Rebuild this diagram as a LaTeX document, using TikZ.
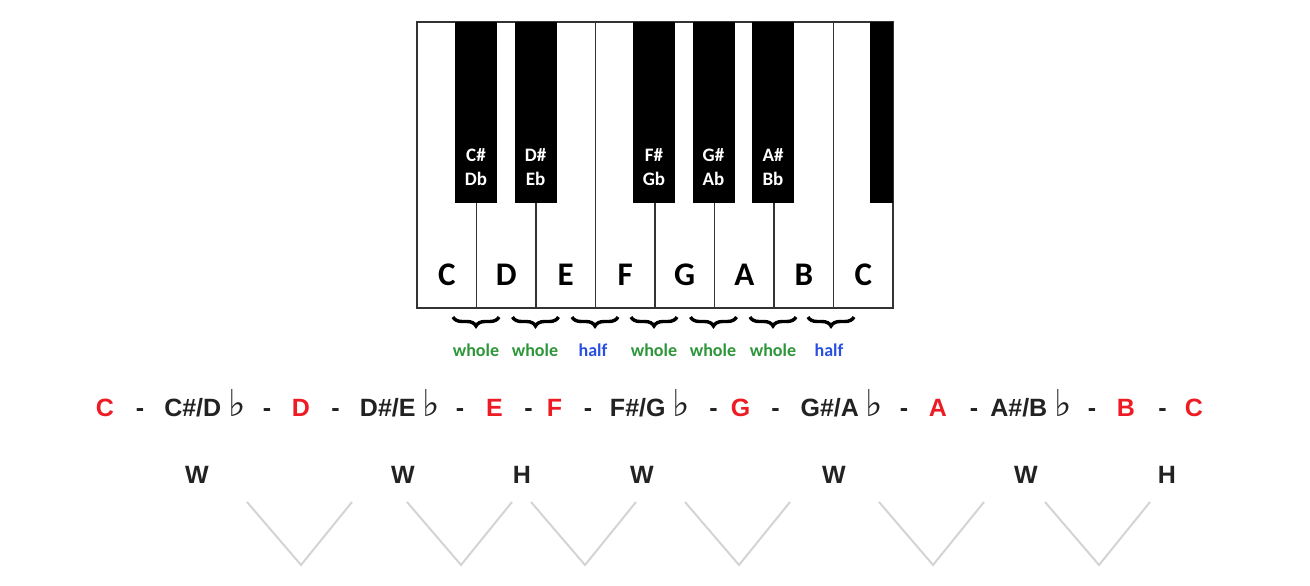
\documentclass[tikz,border=0pt]{standalone}
\usepackage{fontspec}
\usetikzlibrary{decorations.pathreplacing}
\newfontfamily\keyfont{Carlito}
\newfontfamily\arfont{Liberation Sans}
\newfontfamily\symfont{DejaVu Sans}
\definecolor{notered}{RGB}{237,28,36}
\definecolor{notedark}{RGB}{34,34,34}
\definecolor{wholegreen}{RGB}{46,150,58}
\definecolor{halfblue}{RGB}{40,80,225}
\definecolor{vgray}{RGB}{212,212,212}
\tikzset{
  whitekey/.style={draw=black!80, line width=1.3pt, fill=white, minimum width=59.5pt, minimum height=286pt, inner sep=0pt},
  blackkey/.style={fill=black, draw=none, minimum width=42pt, minimum height=181pt, inner sep=0pt},
  wlabel/.style={anchor=base, inner sep=0pt, font=\keyfont\bfseries\fontsize{33}{36}\selectfont, text=black},
  blabel/.style={anchor=base, inner sep=0pt, font=\keyfont\bfseries\fontsize{19}{22}\selectfont, text=white},
  bracestyle/.style={decorate, decoration={brace, amplitude=9pt}, line width=3.4pt, black},
  steplabel/.style={anchor=base, inner sep=0pt, font=\keyfont\bfseries\fontsize{18}{21}\selectfont},
  noteitem/.style={anchor=base, inner sep=0pt, font=\arfont\bfseries\fontsize{25}{28}\selectfont, text=notedark},
  rednote/.style={noteitem, text=notered},
  wh/.style={anchor=base, inner sep=0pt, font=\arfont\bfseries\fontsize{25}{28}\selectfont, text=notedark},
  vshape/.style={draw=vgray, line width=2pt}
}
\newcommand{\flatsym}{\hspace{7pt}{\symfont\mdseries\fontsize{37}{37}\selectfont ♭}}
\begin{document}
\begin{tikzpicture}[x=1pt,y=-1pt]
\useasboundingbox[fill=white] (0,0) rectangle (1310,586);
% white keys
\foreach \i/\n in {0/wC,1/wD,2/wE,3/wF,4/wG,5/wA,6/wB,7/wCC}
  \node[whitekey] (\n) at (446.75+59.5*\i,165) {};
% black keys
\node[blackkey] (bCs) at (476,112.5) {};
\node[blackkey] (bDs) at (535.5,112.5) {};
\node[blackkey] (bFs) at (654,112.5) {};
\node[blackkey] (bGs) at (713.5,112.5) {};
\node[blackkey] (bAs) at (773,112.5) {};
\node[blackkey, minimum width=23pt] (bCs2) at (881.5,112.5) {};
% black key labels
\node[blabel] (lCs) at (476,161.5) {C\#};
\node[blabel] (lDb) at (476,185.5) {Db};
\node[blabel] (lDs) at (535.5,161.5) {D\#};
\node[blabel] (lEb) at (535.5,185.5) {Eb};
\node[blabel] (lFs) at (654,161.5) {F\#};
\node[blabel] (lGb) at (654,185.5) {Gb};
\node[blabel] (lGs) at (713.5,161.5) {G\#};
\node[blabel] (lAb) at (713.5,185.5) {Ab};
\node[blabel] (lAs) at (773,161.5) {A\#};
\node[blabel] (lBb) at (773,185.5) {Bb};
% white key labels
\foreach \i/\t/\n in {0/C/kC,1/D/kD,2/E/kE,3/F/kF,4/G/kG,5/A/kA,6/B/kB,7/C/kCC}
  \node[wlabel] (\n) at (446.75+59.5*\i,285.5) {\t};
% braces
\foreach \x in {476,535.5,595,654,713.5,773,831}
  \draw[bracestyle] (\x+23,317) -- (\x-23,317);
% step labels
\node[steplabel, text=wholegreen] (s1) at (476,356.5) {whole};
\node[steplabel, text=wholegreen] (s2) at (535,356.5) {whole};
\node[steplabel, text=halfblue] (s3) at (593,356.5) {half};
\node[steplabel, text=wholegreen] (s4) at (654,356.5) {whole};
\node[steplabel, text=wholegreen] (s5) at (713,356.5) {whole};
\node[steplabel, text=wholegreen] (s6) at (773,356.5) {whole};
\node[steplabel, text=halfblue] (s7) at (829,356.5) {half};
% note row
\node[rednote] (n1) at (105,416) {C};
\node[noteitem] (d1) at (140,416) {-};
\node[noteitem] (n2) at (205,416) {C\#/D\flatsym};
\node[noteitem] (d2) at (267,416) {-};
\node[rednote] (n3) at (301,416) {D};
\node[noteitem] (d3) at (335.5,416) {-};
\node[noteitem] (n4) at (400,416) {D\#/E\flatsym};
\node[noteitem] (d4) at (460,416) {-};
\node[rednote] (n5) at (494.5,416) {E};
\node[noteitem] (d5) at (528.5,416) {-};
\node[rednote] (n6) at (554.5,416) {F};
\node[noteitem] (d6) at (588,416) {-};
\node[noteitem] (n7) at (650,416) {F\#/G\flatsym};
\node[noteitem] (d7) at (713.5,416) {-};
\node[rednote] (n8) at (740.5,416) {G};
\node[noteitem] (d8) at (775.5,416) {-};
\node[noteitem] (n9) at (842,416) {G\#/A\flatsym};
\node[noteitem] (d9) at (904,416) {-};
\node[rednote] (n10) at (938,416) {A};
\node[noteitem] (d10) at (974,416) {-};
\node[noteitem] (n11) at (1031,416) {A\#/B\flatsym};
\node[noteitem] (d11) at (1092,416) {-};
\node[rednote] (n12) at (1126,416) {B};
\node[noteitem] (d12) at (1162.5,416) {-};
\node[rednote] (n13) at (1194,416) {C};
% W / H row
\node[wh] (w1) at (197,483) {W};
\node[wh] (w2) at (403,483) {W};
\node[wh] (h1) at (522,483) {H};
\node[wh] (w3) at (642,483) {W};
\node[wh] (w4) at (834,483) {W};
\node[wh] (w5) at (1026,483) {W};
\node[wh] (h2) at (1167,483) {H};
% V shapes
\foreach \x in {301,461,585,739,933,1099}
  \draw[vshape] (\x-54,502) -- (\x,565) -- (\x+51,502);
\end{tikzpicture}
\end{document}
